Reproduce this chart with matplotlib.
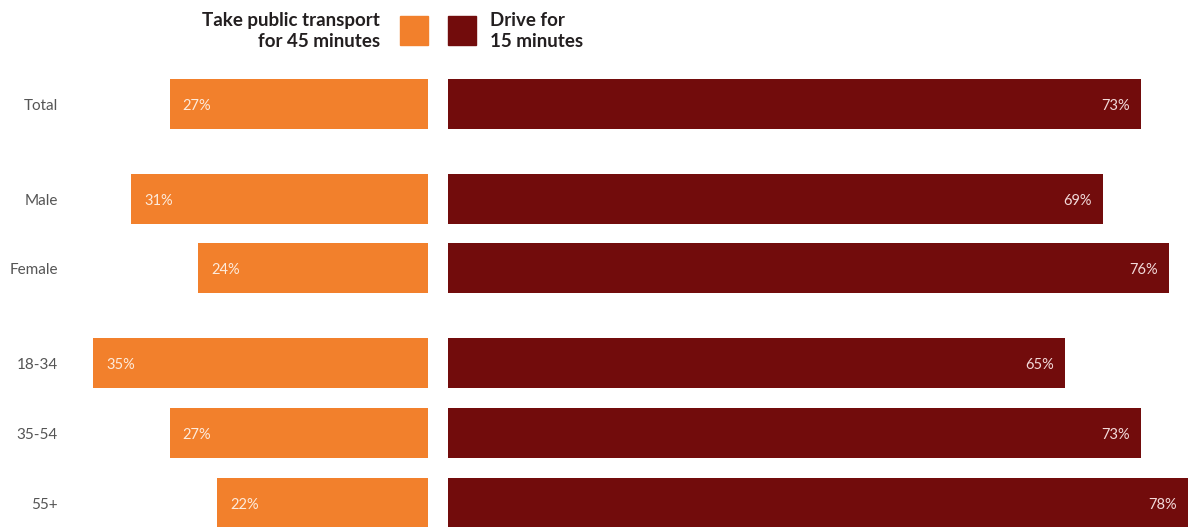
import matplotlib
matplotlib.use('Agg')
import matplotlib.pyplot as plt
from matplotlib.patches import Rectangle

# Data -----------------------------------------------------------------------
categories = ['Total', 'Male', 'Female', '18-34', '35-54', '55+']
transit = [27, 31, 24, 35, 27, 22]
drive = [73, 69, 76, 65, 73, 78]
legend_transit = 'Take public transport\nfor 45 minutes'
legend_drive = 'Drive for\n15 minutes'

# Style ----------------------------------------------------------------------
ORANGE = '#F2802C'
DARK = '#720C0C'
FONT = ['Lato', 'DejaVu Sans']
plt.rcParams['font.family'] = FONT

W, H = 1188, 527
DPI = 100
PX_L = 9.57  # pixels per percentage point, left half
PX_R = 9.49  # pixels per percentage point, right half

# row centres (pixels from top): groups separated by a wider gap
row_y = [104, 199, 268, 363, 433, 503]
BAR_H = 50
TXT_DY = -2  # nudge labels down a touch

fig = plt.figure(figsize=(W / DPI, H / DPI), dpi=DPI)

def px_axes(x0, x1):
    return fig.add_axes([x0 / W, 0, (x1 - x0) / W, 1])

# left (public transport) axes, bars grow leftwards from x=428
axL = px_axes(70, 428)
axL.set_xlim((428 - 70) / PX_L, 0)
# right (drive) axes, bars grow rightwards from x=448
axR = px_axes(448, 1188)
axR.set_xlim(0, (1188 - 448) / PX_R)
for ax in (axL, axR):
    ax.set_ylim(H, 0)
    ax.axis('off')

axL.barh(row_y, transit, height=BAR_H, color=ORANGE)
axR.barh(row_y, drive, height=BAR_H, color=DARK)

for y, v in zip(row_y, transit):
    axL.annotate(f'{v}%', (v, y), xytext=(13, TXT_DY),
                 textcoords='offset pixels', ha='left', va='center',
                 color='#FDEBDC', fontsize=10.5)
for y, v in zip(row_y, drive):
    axR.annotate(f'{v}%', (v, y), xytext=(-11, TXT_DY),
                 textcoords='offset pixels', ha='right', va='center',
                 color='#F2DADA', fontsize=10.5)

# category labels
for y, c in zip(row_y, categories):
    fig.text(58 / W, 1 - (y + 2) / H, c, ha='right', va='center',
             fontsize=11, color='#555555')

# legend
fig.add_artist(Rectangle((400 / W, 1 - 45 / H), 28 / W, 29 / H,
                         transform=fig.transFigure, color=ORANGE))
fig.add_artist(Rectangle((448 / W, 1 - 45 / H), 28 / W, 29 / H,
                         transform=fig.transFigure, color=DARK))
fig.text(380 / W, 1 - 31 / H, legend_transit, ha='right', va='center',
         fontsize=13.5, fontweight='bold', color='#231F20', linespacing=1.25)
fig.text(490 / W, 1 - 31 / H, legend_drive, ha='left', va='center',
         fontsize=13.5, fontweight='bold', color='#231F20', linespacing=1.25)

fig.savefig('out.png', dpi=DPI)
